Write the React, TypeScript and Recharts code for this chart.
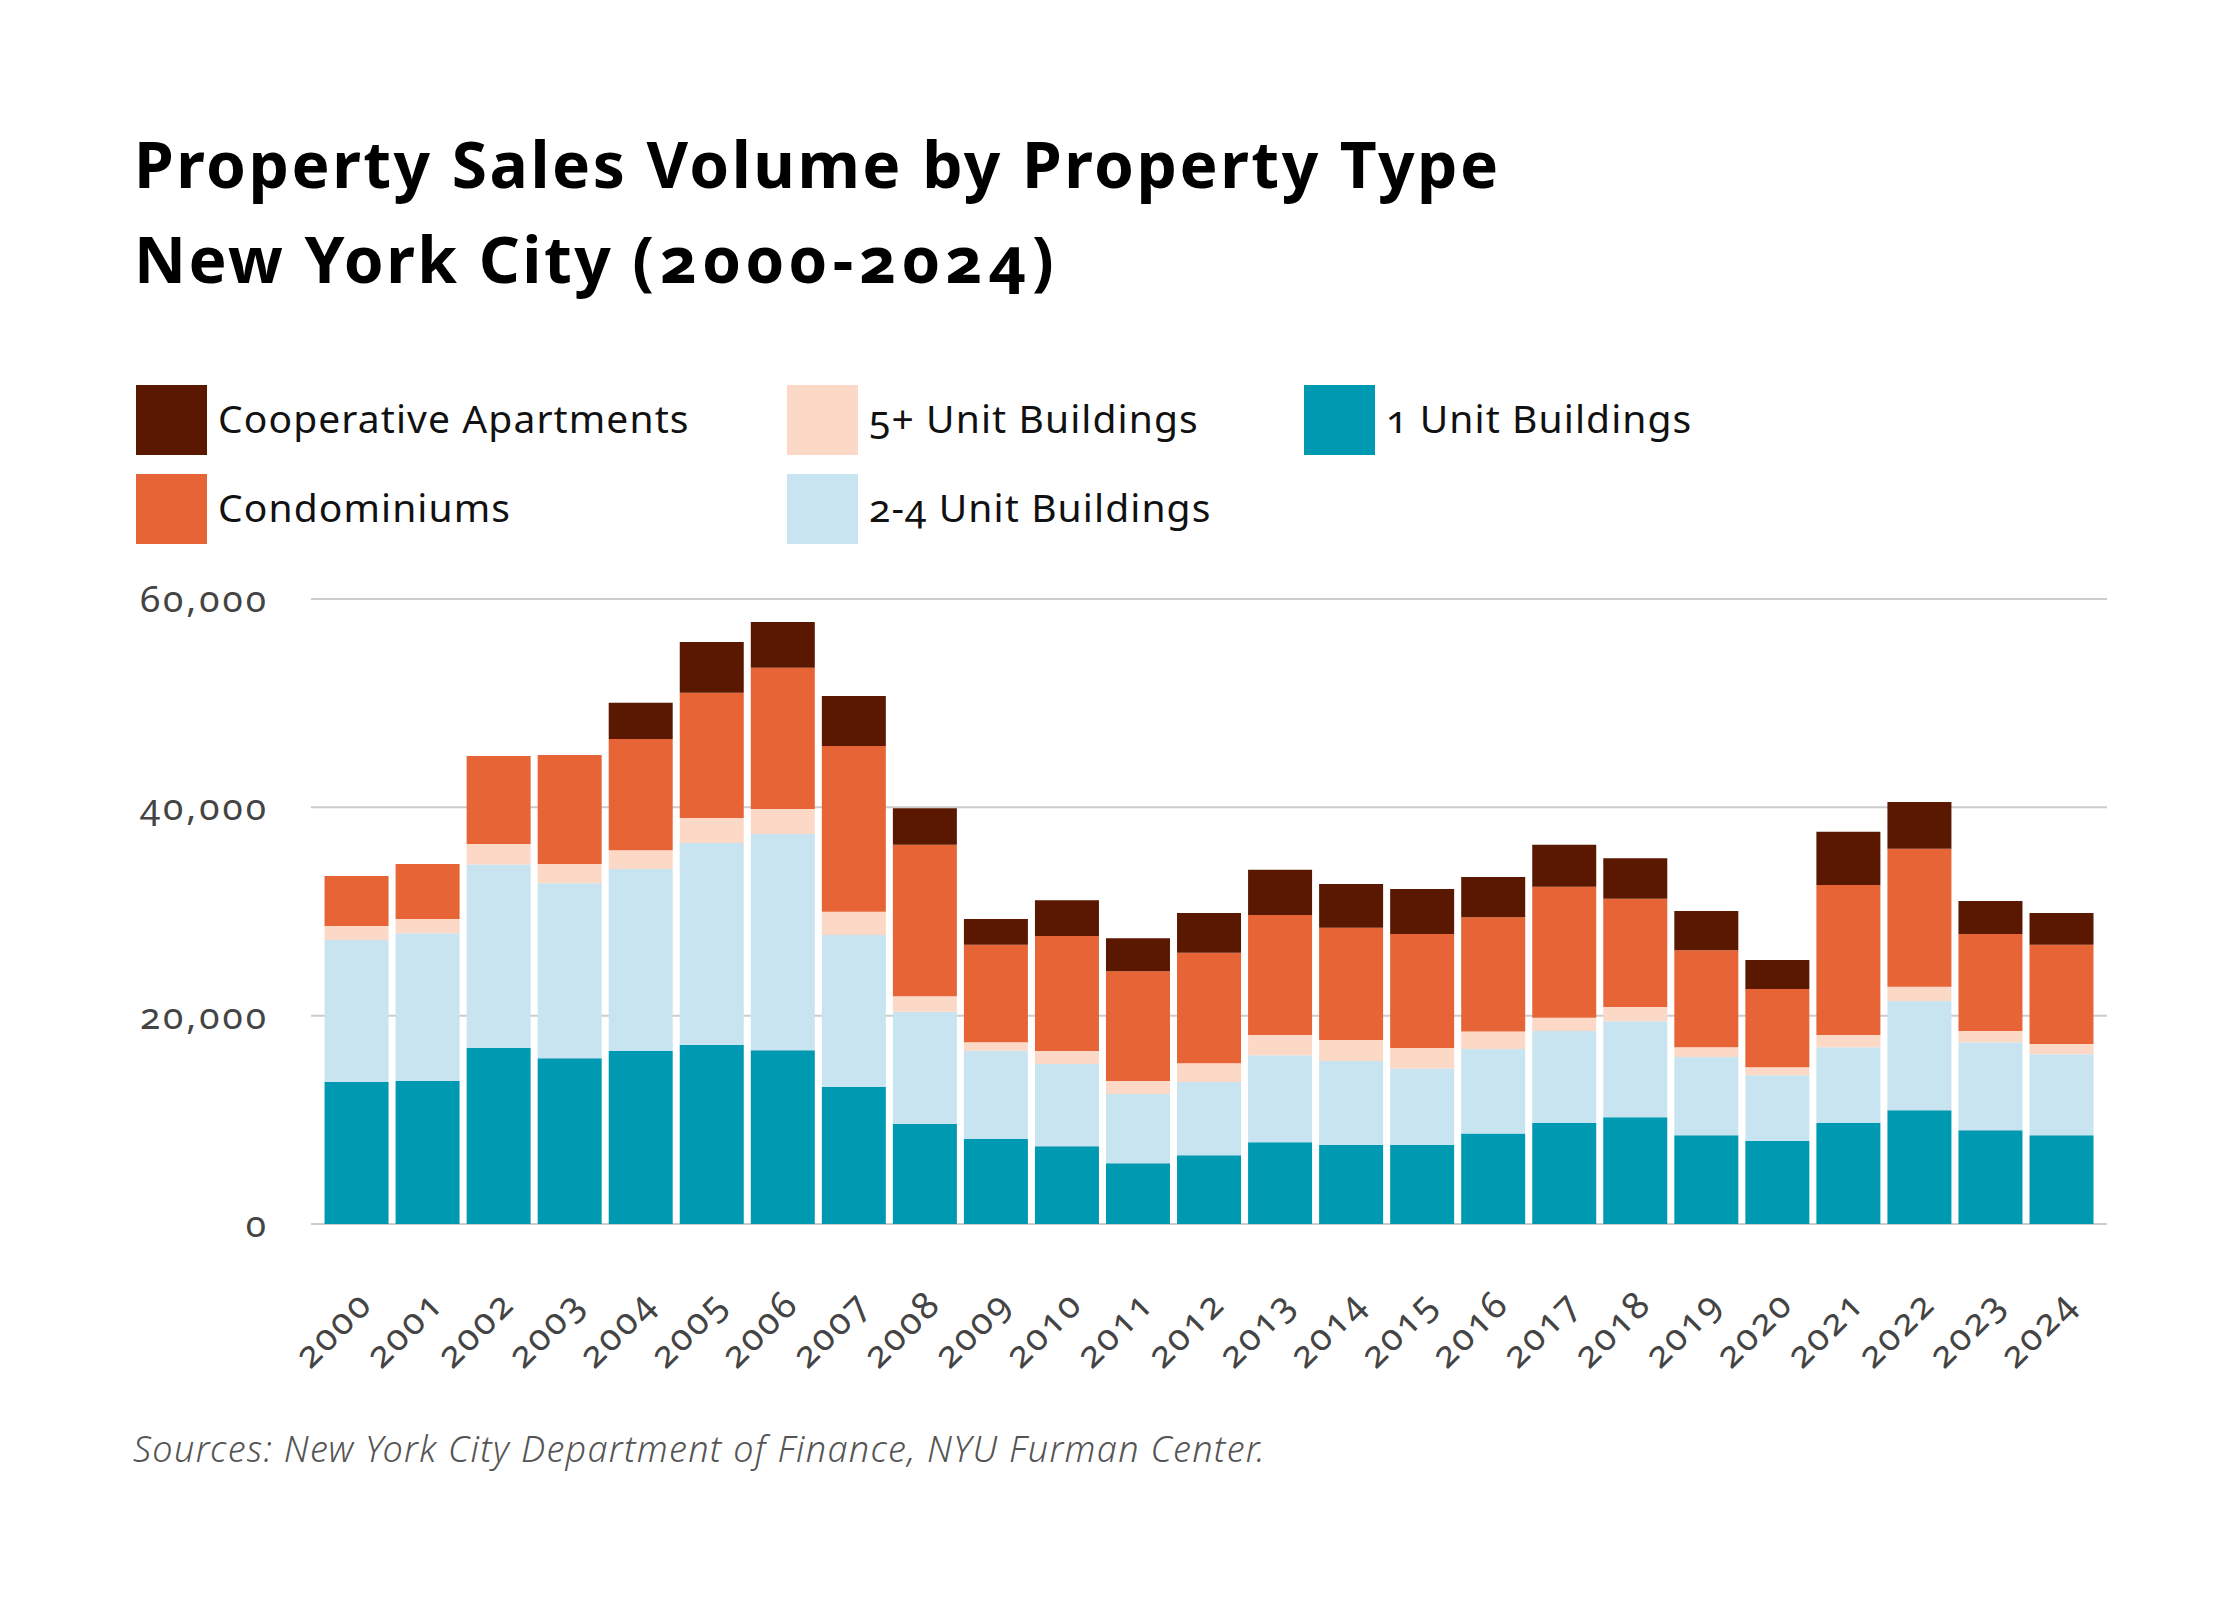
import React from 'react';
import { BarChart, Bar, XAxis, YAxis, CartesianGrid } from 'recharts';

const years = ['2000','2001','2002','2003','2004','2005','2006','2007','2008','2009','2010','2011','2012','2013','2014','2015','2016','2017','2018','2019','2020','2021','2022','2023','2024'];
const oneUnit = [13640, 13720, 16900, 15910, 16600, 17200, 16680, 13160, 9610, 8150, 7460, 5830, 6600, 7850, 7590, 7590, 8700, 9690, 10250, 8530, 7980, 9690, 10930, 9010, 8530];
const twoFour = [13630, 14200, 17620, 16810, 17490, 19380, 20760, 14580, 10760, 8490, 7890, 6650, 7040, 8360, 8060, 7330, 8110, 8830, 9220, 7510, 6300, 7290, 10470, 8440, 7770];
const fivePlus = [1330, 1370, 1970, 1840, 1800, 2400, 2400, 2230, 1500, 810, 1250, 1240, 1800, 1930, 2020, 1980, 1670, 1290, 1370, 940, 770, 1160, 1370, 1070, 980];
const condos = [4800, 5270, 8450, 10470, 10680, 12010, 13550, 15910, 14540, 9350, 11060, 10550, 10590, 11530, 10760, 10930, 10980, 12570, 10380, 9310, 7510, 14410, 13250, 9310, 9520];
const coops = [0, 0, 0, 0, 3470, 4880, 4410, 4810, 3510, 2490, 3430, 3170, 3820, 4340, 4200, 4330, 3860, 4030, 3900, 3770, 2780, 5100, 4500, 3170, 3050];
const yTicks = [0, 20000, 40000, 60000];

const series = [
  { key: 'oneUnit', name: '1 Unit Buildings', color: '#0099b2' },
  { key: 'twoFour', name: '2-4 Unit Buildings', color: '#c8e4f0' },
  { key: 'fivePlus', name: '5+ Unit Buildings', color: '#fcd9c7' },
  { key: 'condos', name: 'Condominiums', color: '#e66435' },
  { key: 'coops', name: 'Cooperative Apartments', color: '#5a1801' },
];

const legendLayout = [
  { key: 'coops', x: 136, y: 385 },
  { key: 'condos', x: 136, y: 474 },
  { key: 'fivePlus', x: 787, y: 385 },
  { key: 'twoFour', x: 787, y: 474 },
  { key: 'oneUnit', x: 1304, y: 385 },
];

const data = years.map((year, i) => ({
  year,
  oneUnit: oneUnit[i],
  twoFour: twoFour[i],
  fivePlus: fivePlus[i],
  condos: condos[i],
  coops: coops[i],
}));

const FONT = '"Noto Sans", sans-serif';
const onum: React.CSSProperties = { fontVariantNumeric: 'oldstyle-nums', fontFeatureSettings: '"onum" 1' };

const fmt = (v: number) => v.toLocaleString('en-US');

const XTick = (props: any) => {
  const { x, y, payload } = props;
  const ax = x + 18;
  const ay = y + 82;
  return (
    <text
      x={ax}
      y={ay}
      transform={`rotate(-45 ${ax} ${ay})`}
      textAnchor="end"
      fontFamily={FONT}
      fontSize={37}
      fill="#444444"
      letterSpacing={2.5}
      style={onum}
    >
      {payload.value}
    </text>
  );
};

export default function App() {
  return (
    <div style={{ position: 'absolute', left: 0, top: 0, width: 2240, height: 1600, background: '#ffffff', overflow: 'hidden' }}>
      <BarChart
        width={2240}
        height={1600}
        data={data}
        margin={{ top: 599, right: 133, bottom: 276, left: 0 }}
        barCategoryGap="5%"
      >
        <CartesianGrid vertical={false} stroke="#cccccc" strokeWidth={2} />
        <XAxis
          dataKey="year"
          axisLine={false}
          tickLine={false}
          tickSize={0}
          tickMargin={0}
          height={100}
          interval={0}
          padding={{ left: 10, right: 10 }}
          tick={<XTick />}
        />
        <YAxis
          width={311}
          domain={[0, 60000]}
          ticks={yTicks}
          axisLine={false}
          tickLine={false}
          tickSize={0}
          tickMargin={42}
          tickFormatter={fmt}
          tick={{ fontFamily: FONT, fontSize: 37, fill: '#444444', letterSpacing: 3, style: onum } as any}
        />
        {series.map((s) => (
          <Bar key={s.key} dataKey={s.key} name={s.name} stackId="a" fill={s.color} isAnimationActive={false} />
        ))}
      </BarChart>
      <svg width={2240} height={1600} style={{ position: 'absolute', left: 0, top: 0, pointerEvents: 'none' }}>
        <text x={134} y={188} fontFamily={FONT} fontWeight={700} fontSize={64} letterSpacing={2.5} fill="#000000" style={onum}>
          Property Sales Volume by Property Type
        </text>
        <text x={134} y={283} fontFamily={FONT} fontWeight={700} fontSize={64} letterSpacing={2.5} fill="#000000" style={onum}>
          New York City <tspan letterSpacing={5.9}>(2000-2024)</tspan>
        </text>
        {legendLayout.map((l) => {
          const s = series.find((q) => q.key === l.key)!;
          return (
            <g key={l.key}>
              <rect x={l.x} y={l.y} width={71} height={70} fill={s.color} />
              <text x={l.x + 82} y={l.y + 48} fontFamily={FONT} fontSize={39} letterSpacing={1.1} fill="#111111" style={onum}>
                {s.name}
              </text>
            </g>
          );
        })}
        <text x={133} y={1462} fontFamily={FONT} fontStyle="italic" fontWeight={300} fontSize={36} letterSpacing={1.3} fill="#555555" style={onum}>
          Sources: New York City Department of Finance, NYU Furman Center.
        </text>
      </svg>
    </div>
  );
}
